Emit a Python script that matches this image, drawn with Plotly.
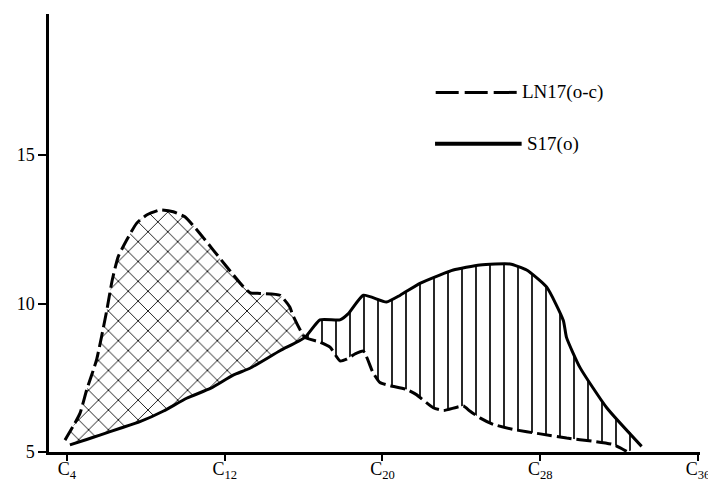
import plotly.graph_objects as go

# ---- data ----
ln17_x = [3.9, 4.3, 4.66, 5.0, 5.5, 6.0, 6.3, 6.6, 7.03, 7.53, 8.04, 8.72, 9.39, 9.98,
          10.74, 11.42, 12.1, 12.94, 13.3, 13.8, 14.8, 15.3, 15.46, 16.07, 16.83, 17.34,
          17.84, 18.18, 18.6, 19.03, 19.5, 19.87, 20.4, 21.2, 21.7, 22.57, 23.1, 24.1,
          24.43, 24.94, 25.62, 26.63, 28.0, 29.34, 30.69, 31.7, 32.38]
ln17_y = [5.4, 5.85, 6.3, 7.09, 8.1, 9.7, 10.8, 11.58, 12.14, 12.7, 12.98, 13.15, 13.09, 12.92,
          12.36, 11.8, 11.24, 10.57, 10.36, 10.34, 10.28, 9.88, 9.6, 8.86, 8.7, 8.53,
          8.07, 8.13, 8.3, 8.4, 7.7, 7.34, 7.23, 7.11, 6.94, 6.49, 6.4, 6.55,
          6.38, 6.15, 5.93, 5.76, 5.61, 5.47, 5.36, 5.25, 5.02]

s17_x = [4.15, 5.0, 5.67, 6.7, 7.7, 8.9, 10.07, 11.3, 12.43, 13.28, 14.8, 16.07, 16.83,
         17.84, 18.27, 19.03, 20.2, 20.9, 21.9, 22.9, 23.59, 24.94, 26.46, 27.31, 28.32,
         29.17, 29.33, 30.01, 31.37, 33.14]
s17_y = [5.24, 5.42, 5.57, 5.8, 6.02, 6.38, 6.81, 7.15, 7.59, 7.82, 8.41, 8.86, 9.45,
         9.45, 9.66, 10.28, 10.05, 10.28, 10.68, 10.96, 11.13, 11.3, 11.33, 11.13, 10.56,
         9.43, 8.86, 7.85, 6.49, 5.19]

cross_x = 16.07  # where the two curves cross

x_tickvals = [4, 12, 20, 28, 36]
x_ticktext = ["C<sub>4</sub>", "C<sub>12</sub>", "C<sub>20</sub>", "C<sub>28</sub>", "C<sub>36</sub>"]
y_tickvals = [5, 10, 15]
y_ticktext = ["5", "10", "15"]

series_names = ["LN17(o-c)", "S17(o)"]

# ---- hatched regions built from the data ----
ln_pts = list(zip(ln17_x, ln17_y))
s_pts = list(zip(s17_x, s17_y))

left_poly = [p for p in ln_pts if p[0] <= cross_x] + [p for p in reversed(s_pts) if p[0] < cross_x]
right_poly = [p for p in s_pts if p[0] >= cross_x] + [p for p in reversed(ln_pts) if p[0] > cross_x]

FONT = "Liberation Serif, Times New Roman, serif"
X_RANGE = [3.09, 36.1]
Y_RANGE = [5, 19.75]
SMOOTH = 0.5

fig = go.Figure()


def hatch(poly, shape, uid):
    return go.Scatter(
        x=[p[0] for p in poly], y=[p[1] for p in poly], uid=uid,
        mode="lines", line=dict(width=0, shape="spline", smoothing=SMOOTH),
        fill="toself", fillcolor="rgba(0,0,0,0)",
        fillpattern=dict(shape=shape, size=14, solidity=0.12, fgcolor="black",
                         fillmode="replace"),
        hoverinfo="skip", showlegend=False,
    )


# cross-hatched where LN17 lies above S17, single hatching where S17 lies above LN17
fig.add_trace(hatch(left_poly, "x", "hatchCross"))
fig.add_trace(hatch(right_poly, "|", "hatchVertical"))

fig.add_trace(go.Scatter(x=ln17_x, y=ln17_y, mode="lines", name=series_names[0],
                         line=dict(color="black", width=3, dash="15px,5px",
                                   shape="spline", smoothing=SMOOTH),
                         showlegend=False))
fig.add_trace(go.Scatter(x=s17_x, y=s17_y, mode="lines", name=series_names[1],
                         line=dict(color="black", width=3, shape="spline", smoothing=SMOOTH),
                         showlegend=False))

# ---- hand-made legend (long sample lines as in the reference) ----
fig.add_shape(type="line", xref="paper", yref="paper", x0=0.594, x1=0.720, y0=0.821, y1=0.821,
              line=dict(color="black", width=3, dash="23px,6px"))
fig.add_shape(type="line", xref="paper", yref="paper", x0=0.593, x1=0.726, y0=0.704, y1=0.704,
              line=dict(color="black", width=4))
fig.add_annotation(xref="paper", yref="paper", x=0.724, y=0.821, xanchor="left", yanchor="middle",
                   text=series_names[0], showarrow=False, font=dict(family=FONT, size=19, color="black"))
fig.add_annotation(xref="paper", yref="paper", x=0.731, y=0.704, xanchor="left", yanchor="middle",
                   text=series_names[1], showarrow=False, font=dict(family=FONT, size=19, color="black"))

fig.update_layout(
    template="none",
    width=708, height=482,
    margin=dict(l=49, r=8, t=14, b=30),
    paper_bgcolor="white", plot_bgcolor="white",
    font=dict(family=FONT, size=18, color="black"),
    showlegend=False,
    xaxis=dict(
        range=X_RANGE, showgrid=False, zeroline=False,
        showline=True, linecolor="black", linewidth=2.5,
        ticks="outside", ticklen=6, tickwidth=2, tickcolor="black",
        tickvals=x_tickvals, ticktext=x_ticktext, ticklabeloverflow="allow",
        ticklabelstandoff=-7,
        tickfont=dict(family=FONT, size=18, color="black"),
    ),
    yaxis=dict(
        range=Y_RANGE, showgrid=False, zeroline=False,
        showline=True, linecolor="black", linewidth=2.5,
        ticks="outside", ticklen=8, tickwidth=2, tickcolor="black",
        tickvals=y_tickvals, ticktext=y_ticktext,
        tickfont=dict(family=FONT, size=18, color="black"),
    ),
)

fig.write_html("out.html", config={"displayModeBar": False},
               post_script="document.body.style.margin='0';document.body.style.overflow='hidden';")
